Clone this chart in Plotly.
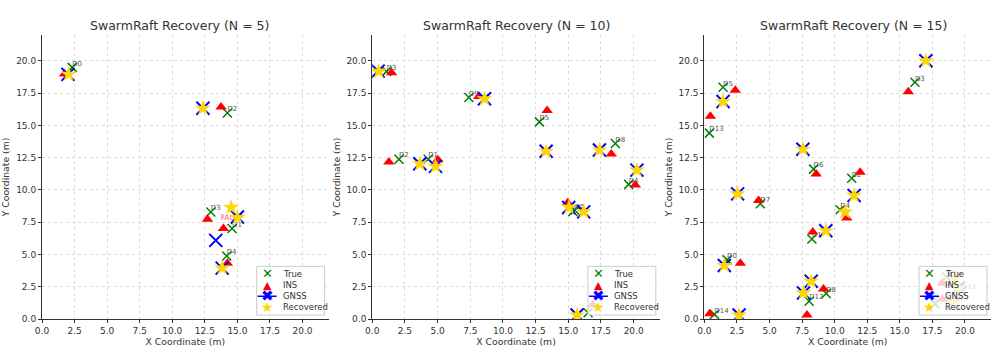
"""
SwarmRaft recovery: true / INS / GNSS / recovered drone positions for N = 5, 10, 15.
"""

import plotly.graph_objects as go
from plotly.subplots import make_subplots

# ---- N = 5 ----
n5_true_x = [2.32, 14.59, 14.23, 12.96, 14.18]
n5_true_y = [19.49, 7.01, 15.96, 8.29, 4.88]
n5_labels = ["D0", "D1", "D2", "D3", "D4"]
n5_ins_x = [1.73, 13.93, 13.75, 12.70, 14.23]
n5_ins_y = [18.98, 7.01, 16.42, 7.72, 4.32]
n5_gnss_x = [1.99, 15.00, 12.35, 13.34, 13.83]
n5_gnss_y = [18.95, 7.90, 16.32, 6.09, 3.94]
n5_rec_x = [2.04, 15.00, 12.35, 14.52, 13.83]
n5_rec_y = [18.95, 7.85, 16.32, 8.64, 3.94]
n5_fault_x = [13.72]
n5_fault_y = [7.83]

# ---- N = 10 ----
n10_true_x = [16.51, 4.28, 2.04, 1.10, 19.62, 12.79, 15.35, 15.50, 18.60, 7.39]
n10_true_y = [0.49, 12.38, 12.38, 19.18, 10.43, 15.27, 8.33, 8.42, 13.60, 17.16]
n10_labels = ["D0", "D1", "D2", "D3", "D4", "D5", "D6", "D7", "D8", "D9"]
n10_ins_x = [16.87, 5.02, 1.27, 1.48, 20.13, 13.38, 14.95, 18.29, 8.15]
n10_ins_y = [1.13, 12.33, 12.17, 19.08, 10.38, 16.16, 9.00, 12.79, 17.24]
n10_gnss_x = [15.67, 4.84, 3.64, 0.45, 20.25, 13.30, 15.03, 16.18, 17.38, 8.59]
n10_gnss_y = [0.31, 11.82, 12.02, 19.20, 11.53, 12.99, 8.64, 8.30, 13.09, 17.06]
n10_rec_x = [15.67, 4.84, 3.64, 0.50, 20.25, 13.30, 15.05, 16.18, 17.38, 8.59]
n10_rec_y = [0.31, 11.82, 12.02, 19.18, 11.53, 12.99, 8.66, 8.30, 13.09, 17.06]

# ---- N = 15 ----
n15_true_x = [1.74, 8.25, 11.31, 16.16, 10.42, 1.43, 8.38, 4.29, 9.35, 18.60, 17.70, 19.76, 8.04, 0.38, 0.77]
n15_true_y = [4.58, 6.19, 10.90, 18.34, 8.47, 17.95, 11.61, 8.93, 1.97, 3.25, 1.17, 2.17, 1.38, 14.40, 0.36]
n15_labels = ["D0", "D1", "D2", "D3", "D4", "D5", "D6", "D7", "D8", "D9", "D10", "D11", "D12", "D13", "D14"]
n15_ins_x = [2.76, 8.32, 11.95, 15.65, 10.93, 2.37, 8.58, 4.16, 9.14, 18.26, 18.26, 7.87, 0.46, 0.41]
n15_ins_y = [4.32, 6.73, 11.36, 17.60, 7.83, 17.72, 11.23, 9.18, 2.33, 2.76, 1.56, 0.31, 15.70, 0.41]
n15_gnss_x = [1.53, 9.32, 11.49, 17.00, 1.43, 7.56, 2.55, 8.20, 19.20, 19.15, 19.50, 7.61, 2.66]
n15_gnss_y = [4.14, 6.83, 9.57, 20.00, 16.85, 13.15, 9.69, 2.92, 3.10, 1.25, 2.40, 2.02, 0.31]
n15_rec_x = [1.53, 9.32, 11.49, 17.00, 10.80, 1.43, 7.56, 2.55, 8.20, 19.20, 19.15, 19.50, 7.61, 2.66]
n15_rec_y = [4.14, 6.83, 9.57, 20.00, 8.29, 16.85, 13.15, 9.69, 2.92, 3.10, 1.25, 2.40, 2.02, 0.31]

panels = [
    ("SwarmRaft Recovery (N = 5)", n5_true_x, n5_true_y, n5_labels, n5_ins_x, n5_ins_y,
     n5_gnss_x, n5_gnss_y, n5_rec_x, n5_rec_y),
    ("SwarmRaft Recovery (N = 10)", n10_true_x, n10_true_y, n10_labels, n10_ins_x, n10_ins_y,
     n10_gnss_x, n10_gnss_y, n10_rec_x, n10_rec_y),
    ("SwarmRaft Recovery (N = 15)", n15_true_x, n15_true_y, n15_labels, n15_ins_x, n15_ins_y,
     n15_gnss_x, n15_gnss_y, n15_rec_x, n15_rec_y),
]

# legend entries: name, glyph, glyph colour, glyph size
legend_names = ["True", "INS", "GNSS", "Recovered"]
legend_glyphs = ["\u2715", "\u25B2", "\u2716", "\u2605"]
legend_colors = ["green", "red", "blue", "#FFD700"]
legend_sizes = [13, 11, 15, 14]

FONT = "DejaVu Sans"
TXT = "#333333"

W, H = 997, 351
ML, MR, MT, MB = 41, 6, 35, 30
PW, PH = W - ML - MR, H - MT - MB

fig = make_subplots(rows=1, cols=3, subplot_titles=[p[0] for p in panels])

domains = [[0.0, 0.302], [0.348, 0.651], [0.698, 1.0]]


def px(xp):
    return (xp - ML) / PW


def py(yp):
    return (MT + PH - yp) / PH


for i, (title, tx, ty, lab, ix, iy, gx, gy, rx, ry) in enumerate(panels):
    col = i + 1
    fig.add_trace(go.Scatter(
        x=tx, y=ty, mode="markers", name="True",
        marker=dict(symbol="x-thin", size=9, line=dict(color="green", width=1.5)),
    ), row=1, col=col)
    fig.add_trace(go.Scatter(
        x=tx, y=ty, mode="text", text=lab, textposition="top right",
        textfont=dict(family=FONT, size=7, color="#555555"),
        hoverinfo="skip",
    ), row=1, col=col)
    fig.add_trace(go.Scatter(
        x=ix, y=iy, mode="markers", name="INS",
        marker=dict(symbol="triangle-up", size=10, color="red"),
    ), row=1, col=col)
    if i == 0:
        # label of the faulty drone, partly hidden by the markers drawn after it
        fig.add_trace(go.Scatter(
            x=n5_fault_x, y=n5_fault_y, mode="text", text=["FAULT"],
            textposition="middle right",
            textfont=dict(family=FONT, size=7.5, color="rgba(220,20,60,0.75)"),
            hoverinfo="skip",
        ), row=1, col=col)
    fig.add_trace(go.Scatter(
        x=gx, y=gy, mode="markers", name="GNSS",
        marker=dict(symbol="x-thin", size=13, line=dict(color="blue", width=2)),
    ), row=1, col=col)
    fig.add_trace(go.Scatter(
        x=rx, y=ry, mode="markers", name="Recovered",
        marker=dict(symbol="star", size=12, color="#FFD700", line=dict(width=0)),
    ), row=1, col=col)

    fig.update_xaxes(
        domain=domains[i], range=[0, 22], dtick=2.5, tick0=0, tickformat=".1f",
        showline=True, linecolor=TXT, linewidth=1, mirror=False,
        ticks="outside", ticklen=3, tickcolor=TXT,
        showgrid=True, gridcolor="#dcdcdc", griddash="dot", gridwidth=1,
        zeroline=False,
        title=dict(text="X Coordinate (m)", standoff=3, font=dict(family=FONT, size=9.3, color=TXT)),
        tickfont=dict(family=FONT, size=9, color=TXT),
        row=1, col=col,
    )
    fig.update_yaxes(
        range=[0, 22], dtick=2.5, tick0=0, tickformat=".1f",
        showline=True, linecolor=TXT, linewidth=1, mirror=False,
        ticks="outside", ticklen=3, tickcolor=TXT,
        showgrid=True, gridcolor="#dcdcdc", griddash="dot", gridwidth=1,
        zeroline=False,
        title=dict(text="Y Coordinate (m)", standoff=4, font=dict(family=FONT, size=9.3, color=TXT)),
        tickfont=dict(family=FONT, size=9, color=TXT),
        row=1, col=col,
    )

    # matplotlib-style legend box in the lower right corner of each panel
    right = ML + domains[i][1] * PW - 4
    left = right - 68
    bottom = MT + PH - 4
    top = bottom - 49
    fig.add_shape(
        type="rect", xref="paper", yref="paper",
        x0=px(left), x1=px(right), y0=py(bottom), y1=py(top),
        fillcolor="rgba(255,255,255,0.8)", line=dict(color="#cccccc", width=1),
        layer="above",
    )
    for k, name in enumerate(legend_names):
        yc = top + 7.5 + k * 11.3
        if name == "GNSS":
            fig.add_shape(
                type="line", xref="paper", yref="paper",
                x0=px(left + 1), x1=px(left + 20), y0=py(yc), y1=py(yc),
                line=dict(color="blue", width=1.5), layer="above",
            )
        fig.add_annotation(
            x=px(left + 10.5), y=py(yc), xref="paper", yref="paper",
            text=legend_glyphs[k], showarrow=False, xanchor="center", yanchor="middle",
            font=dict(family=FONT, size=legend_sizes[k], color=legend_colors[k]),
        )
        fig.add_annotation(
            x=px(left + 24), y=py(yc), xref="paper", yref="paper",
            text=name, showarrow=False, xanchor="left", yanchor="middle",
            font=dict(family=FONT, size=8.5, color=TXT),
        )

fig.update_layout(
    width=W, height=H,
    margin=dict(l=ML, r=MR, t=MT, b=MB),
    paper_bgcolor="white", plot_bgcolor="white",
    font=dict(family=FONT, color=TXT),
    showlegend=False,
)
for ann in fig.layout.annotations[:3]:
    ann.font = dict(family=FONT, size=12.5, color=TXT)

fig.write_html(
    "out.html",
    config={"displayModeBar": False},
    post_script="document.body.style.margin = '0px';",
)
